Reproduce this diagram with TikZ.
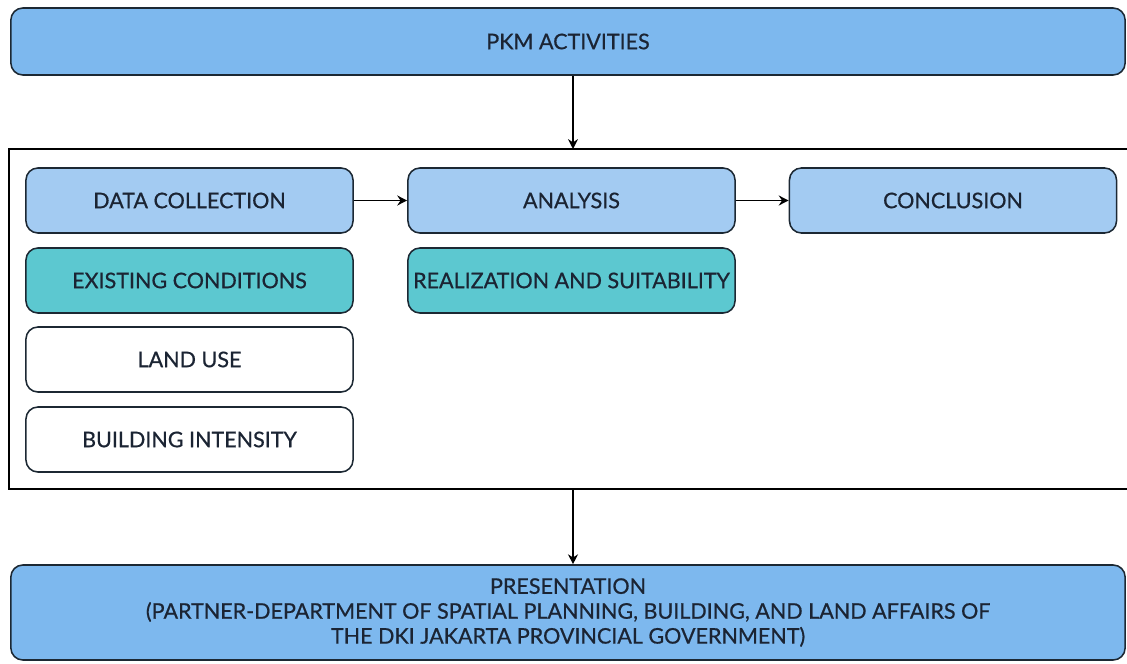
\documentclass[tikz,border=0pt]{standalone}
\usepackage{fontspec}
\setmainfont[FakeBold=0.6]{Lato}
\usetikzlibrary{arrows.meta}
\definecolor{mainblue}{HTML}{7DB8EE}
\definecolor{lightblue}{HTML}{A3CBF2}
\definecolor{tealbox}{HTML}{5CC8D0}
\definecolor{edgedark}{HTML}{1C2833}
\definecolor{textdark}{HTML}{1B2433}
\begin{document}
\begin{tikzpicture}[x=0.025cm, y=-0.025cm,
  every node/.style={text=textdark, font=\fontsize{15.3}{17.7}\selectfont},
  widebox/.style={draw=edgedark, line width=1.1pt, rounded corners=0.3cm, fill=mainblue, minimum width=27.85cm, align=center},
  stepbox/.style={draw=edgedark, line width=1.1pt, rounded corners=0.3cm, minimum width=8.175cm, minimum height=1.625cm, inner xsep=2pt},
  flow/.style={-{Stealth[length=7pt, width=7pt]}, line width=1.4pt, black}]
\useasboundingbox (0,0) rectangle (1127,664);

% frame round the three stages
\draw[line width=1pt, black] (9,149) rectangle (1135,489);

\node[widebox, minimum height=1.675cm] (pkm) at (568,41.5) {PKM ACTIVITIES};

\node[stepbox, fill=lightblue] (data) at (189.5,200.5) {DATA COLLECTION};
\node[stepbox, fill=lightblue] (analysis) at (571.5,200.5) {ANALYSIS};
\node[stepbox, fill=lightblue] (concl) at (953,200.5) {CONCLUSION};

\node[stepbox, fill=tealbox] (exist) at (189.5,280.5) {EXISTING CONDITIONS};
\node[stepbox, fill=tealbox] (real) at (571.5,280.5) {REALIZATION AND SUITABILITY};
\node[stepbox, fill=white] (land) at (189.5,359.5) {LAND USE};
\node[stepbox, fill=white] (build) at (189.5,439.5) {BUILDING INTENSITY};

\node[widebox, minimum height=2.375cm] (pres) at (568,612.5)
  {PRESENTATION\\(PARTNER-DEPARTMENT OF SPATIAL PLANNING, BUILDING, AND LAND AFFAIRS OF\\THE DKI JAKARTA PROVINCIAL GOVERNMENT)};

\coordinate (frametop) at (573,149);
\coordinate (framebot) at (573,489);

\draw[flow] (pkm.south -| frametop) -- (frametop);
\draw[flow] (data) -- (analysis);
\draw[flow] (analysis) -- (concl);
\draw[flow] (framebot) -- (framebot |- pres.north);

\end{tikzpicture}
\end{document}
